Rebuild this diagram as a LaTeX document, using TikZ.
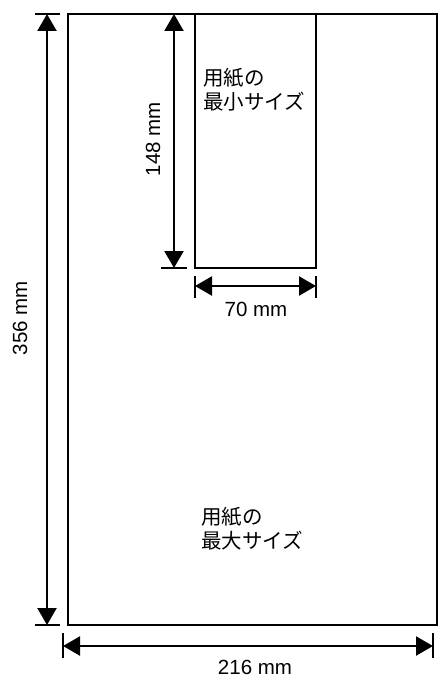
\documentclass[tikz,border=0pt]{standalone}
\usepackage{fontspec}
\setmainfont{Liberation Sans}
\newfontfamily\jfont{Noto Sans CJK JP}
\usetikzlibrary{arrows.meta}
\begin{document}
\begin{tikzpicture}[x=1pt,y=-1pt,line width=2.2pt,
  dimline/.style={{Triangle[length=17pt,width=19pt]}-{Triangle[length=17pt,width=19pt]},line width=2.2pt},
  tickline/.style={line width=2.2pt},
  paper/.style={draw,line width=2.2pt,inner sep=0pt,outer sep=0pt},
  lbl/.style={font=\fontsize{20.5}{24}\selectfont,inner sep=0pt},
  jlbl/.style={font=\jfont\fontsize{20.5}{24}\selectfont,align=left,inner sep=0pt,anchor=west}]
\useasboundingbox (0,0) rectangle (445,682);
% paper outlines
\node[paper,minimum width=369pt,minimum height=611pt] (big) at (252.5,319.5) {};
\node[paper,minimum width=121pt,minimum height=254pt] (small) at (255.5,141) {};
% 356 mm
\coordinate (t1a) at (35,14); \coordinate (t1b) at (60,14);
\coordinate (t2a) at (35,625); \coordinate (t2b) at (60,625);
\coordinate (v1) at (47,14); \coordinate (v2) at (47,625);
\draw[tickline] (t1a) -- (t1b);
\draw[tickline] (t2a) -- (t2b);
\draw[dimline] (v1) -- (v2);
\node[lbl,rotate=90] (l356) at (20,318) {356 mm};
% 148 mm
\coordinate (t3a) at (161,268); \coordinate (t3b) at (187,268);
\coordinate (v3) at (174,14); \coordinate (v4) at (174,268);
\draw[tickline] (t3a) -- (t3b);
\draw[dimline] (v3) -- (v4);
\node[lbl,rotate=90] (l148) at (153,139) {148 mm};
% 70 mm
\coordinate (t4a) at (195,276); \coordinate (t4b) at (195,298);
\coordinate (t5a) at (316,276); \coordinate (t5b) at (316,298);
\coordinate (h1) at (195,286); \coordinate (h2) at (316,286);
\draw[tickline] (t4a) -- (t4b);
\draw[tickline] (t5a) -- (t5b);
\draw[dimline] (h1) -- (h2);
\node[lbl] (l70) at (256,309) {70 mm};
% 216 mm
\coordinate (t6a) at (63,633); \coordinate (t6b) at (63,658);
\coordinate (t7a) at (433,633); \coordinate (t7b) at (433,658);
\coordinate (h3) at (63,646); \coordinate (h4) at (433,646);
\draw[tickline] (t6a) -- (t6b);
\draw[tickline] (t7a) -- (t7b);
\draw[dimline] (h3) -- (h4);
\node[lbl] (l216) at (255,667) {216 mm};
% texts
\node[jlbl] (minlbl) at (202,90) {用紙の\\最小サイズ};
\node[jlbl] (maxlbl) at (200,528.5) {用紙の\\最大サイズ};
\end{tikzpicture}
\end{document}
